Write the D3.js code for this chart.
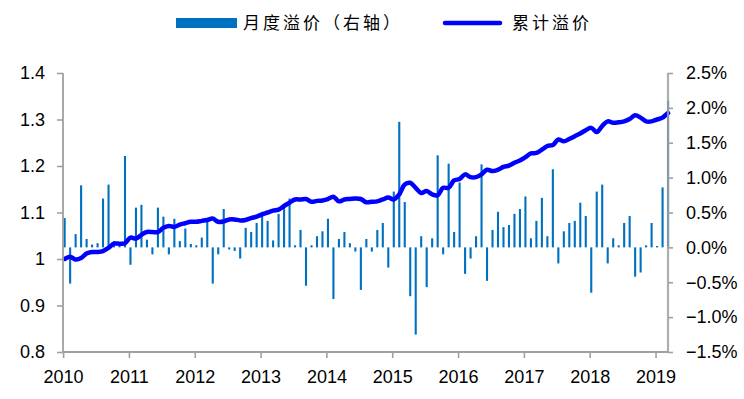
<!DOCTYPE html>
<html><head><meta charset="utf-8">
<script src="https://cdn.jsdelivr.net/npm/d3@7"></script>
<style>
html,body{margin:0;padding:0;background:#fff;}
svg{display:block;}
</style></head>
<body>
<svg id="c" width="744" height="399"></svg>
<script>
// Year tick labels (January of each year)
const yearLabels = ["2010","2011","2012","2013","2014","2015","2016","2017","2018","2019"];
// 月度溢价 (%), right axis — monthly 2010-01 .. 2019-03
const monthly = [
  0.42,-0.52,0.19,0.89,0.12,0.04,0.06,0.70,0.90,0.09,0.02,1.31,
  -0.25,0.57,0.61,0.11,-0.10,0.57,0.44,-0.10,0.41,0.09,0.27,0.05,
  0.03,0.14,0.42,-0.52,-0.10,0.55,-0.03,-0.05,-0.16,0.28,0.22,0.35,
  0.51,0.38,0.10,0.48,0.61,0.70,0.03,0.25,-0.55,0.03,0.16,0.23,
  0.41,-0.74,0.12,0.22,0.06,-0.06,-0.61,0.12,-0.06,0.25,0.35,-0.29,
  0.80,1.80,0.65,-0.70,-1.25,0.16,-0.57,0.13,1.32,-0.10,1.20,0.22,
  0.93,-0.38,-0.16,0.16,1.19,-0.48,0.25,0.51,0.29,0.32,0.48,0.55,
  0.73,0.13,0.38,0.71,0.16,1.12,-0.23,0.23,0.35,0.38,0.64,0.45,
  -0.65,0.80,0.90,-0.23,0.13,0.03,0.35,0.45,-0.42,-0.36,0.03,0.35,
  0.02,0.86,2.10
];
// 累计溢价, left axis
const cumulative = [
  1.000,1.005,0.999,1.002,1.012,1.015,1.015,1.017,1.024,1.033,1.033,1.034,
  1.046,1.044,1.052,1.058,1.058,1.058,1.067,1.071,1.069,1.074,1.077,1.080,
  1.080,1.082,1.084,1.087,1.080,1.081,1.085,1.085,1.083,1.084,1.088,1.091,
  1.096,1.100,1.104,1.106,1.114,1.121,1.128,1.128,1.129,1.123,1.125,1.126,
  1.129,1.134,1.124,1.128,1.129,1.130,1.129,1.122,1.123,1.124,1.128,1.132,
  1.128,1.139,1.160,1.164,1.153,1.142,1.146,1.139,1.137,1.153,1.153,1.169,
  1.172,1.182,1.176,1.176,1.182,1.192,1.189,1.192,1.198,1.201,1.207,1.212,
  1.219,1.227,1.228,1.235,1.243,1.245,1.257,1.253,1.258,1.264,1.270,1.277,
  1.282,1.273,1.286,1.296,1.293,1.294,1.296,1.301,1.309,1.304,1.296,1.296,
  1.300,1.304,1.314
];
const leftTicks = [0.8,0.9,1.0,1.1,1.2,1.3,1.4];
const rightTicks = [-1.5,-1.0,-0.5,0.0,0.5,1.0,1.5,2.0,2.5];
const legendLabels = ["月度溢价（右轴）","累计溢价"];

const svg = d3.select("#c");
const L = 63, R = 668, T = 73, B = 352;
const axisColor = "#a0a0a0";
const barColor = "#0070C0";
const lineColor = "#0000FF";

const x = d3.scaleLinear().domain([0, monthly.length - 1]).range([64.6, 668]);
const yL = d3.scaleLinear().domain([0.8, 1.4]).range([B, T]);
const yR = d3.scaleLinear().domain([-1.5, 2.5]).range([B, T]);

// bars
svg.append("g").selectAll("rect").data(monthly).join("rect")
  .attr("x", (d,i) => x(i) - 1)
  .attr("width", 2.1)
  .attr("y", d => Math.min(yR(0), yR(d)))
  .attr("height", d => Math.abs(yR(d) - yR(0)))
  .attr("fill", barColor);

// line
const line = d3.line().x((d,i) => x(i)).y(d => yL(d)).curve(d3.curveCatmullRom.alpha(0.5));
svg.append("path").datum(cumulative)
  .attr("d", line).attr("fill","none")
  .attr("stroke", lineColor).attr("stroke-width", 4.5)
  .attr("stroke-linejoin","round").attr("stroke-linecap","round");

// axes
const fontSize = 18;
const gL = svg.append("g").attr("transform", `translate(${L},0)`)
  .call(d3.axisLeft(yL).tickValues(leftTicks).tickSize(6).tickPadding(12)
    .tickFormat(d => String(+d.toFixed(1))));
const gR = svg.append("g").attr("transform", `translate(${R},0)`)
  .call(d3.axisRight(yR).tickValues(rightTicks).tickSize(5).tickPadding(13)
    .tickFormat(d => d3.format(".1f")(d) + "%"));
const yearIdx = yearLabels.map((d,i) => i * 12);
const gB = svg.append("g").attr("transform", `translate(0,${B})`)
  .call(d3.axisBottom(x).tickValues(yearIdx).tickSize(6).tickPadding(12)
    .tickFormat((d,i) => yearLabels[i]));
gB.selectAll(".tick").attr("transform", d => `translate(${x(d) - 1},0)`);

[gL, gR, gB].forEach(g => {
  g.select(".domain").remove();
  g.selectAll(".tick line").attr("stroke", axisColor).attr("stroke-width", 1.6);
  g.selectAll(".tick text").attr("fill", "#000").style("font-size", fontSize + "px")
    .style("font-family", "'Liberation Sans', Arial, sans-serif");
});
// axis lines
svg.append("line").attr("x1", L).attr("x2", L).attr("y1", T).attr("y2", B)
  .attr("stroke", axisColor).attr("stroke-width", 1.8);
svg.append("line").attr("x1", R).attr("x2", R).attr("y1", T).attr("y2", B)
  .attr("stroke", axisColor).attr("stroke-width", 2.2).attr("stroke-opacity", 0.85);
svg.append("line").attr("x1", L).attr("x2", R).attr("y1", B).attr("y2", B)
  .attr("stroke", axisColor).attr("stroke-width", 1.8);

// legend
const lg = svg.append("g");
lg.append("rect").attr("x", 176).attr("y", 18).attr("width", 61).attr("height", 10).attr("fill", barColor);
lg.append("text").attr("x", 243).attr("y", 29).text(legendLabels[0])
  .style("font-family", "'Noto Sans CJK SC', sans-serif").style("font-size", "17px")
  .style("letter-spacing", "3px").attr("fill", "#000");
lg.append("line").attr("x1", 445).attr("x2", 500).attr("y1", 23).attr("y2", 23)
  .attr("stroke", lineColor).attr("stroke-width", 4.5).attr("stroke-linecap", "round");
lg.append("text").attr("x", 512).attr("y", 29).text(legendLabels[1])
  .style("font-family", "'Noto Sans CJK SC', sans-serif").style("font-size", "17px")
  .style("letter-spacing", "3px").attr("fill", "#000");
</script>
</body></html>
